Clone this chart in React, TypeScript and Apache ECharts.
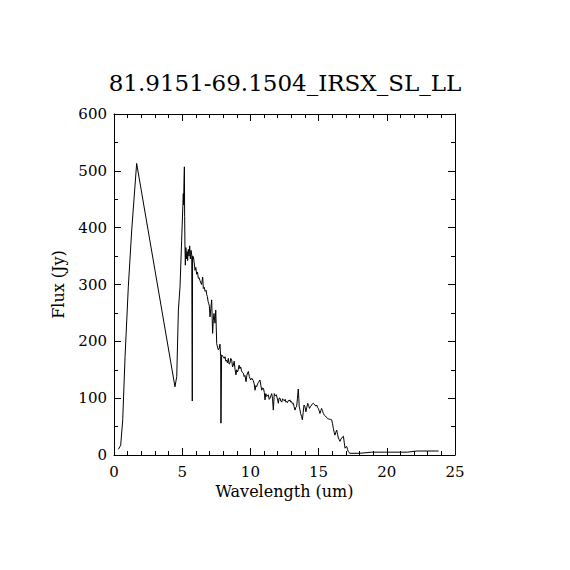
import React, { useEffect, useRef } from "react";
import * as echarts from "echarts";

const TITLE = "81.9151-69.1504_IRSX_SL_LL";
const X_NAME = "Wavelength (um)";
const Y_NAME = "Flux (Jy)";

const wavelength = [
  0.32, 0.49, 0.64, 0.81, 1.05, 1.3, 1.66,
  4.47, 4.6, 4.72, 4.84, 4.96, 5.08, 5.1, 5.13, 5.16, 5.18, 5.2, 5.23, 5.27, 5.31, 5.36, 5.4, 5.45, 5.5, 5.55, 5.6, 5.65, 5.7, 5.74, 5.76,
  5.82, 5.88, 5.94, 6.0, 6.06, 6.12, 6.18, 6.24, 6.3, 6.35, 6.42, 6.5, 6.55, 6.62, 6.68, 6.75, 6.8, 6.84, 6.9, 6.95, 6.99,
  7.04, 7.1, 7.16, 7.23, 7.28, 7.33, 7.4, 7.46, 7.53, 7.59, 7.65, 7.72, 7.77, 7.82, 7.84, 7.89,
  7.95, 8.02, 8.08, 8.14, 8.2, 8.26, 8.32, 8.38, 8.44, 8.5, 8.56, 8.63, 8.69, 8.75, 8.81, 8.88, 8.94, 9.0, 9.05, 9.11, 9.17, 9.23, 9.29,
  9.35, 9.42, 9.48, 9.54, 9.6, 9.68, 9.74, 9.8, 9.85, 9.92, 10.02, 10.1, 10.21, 10.28, 10.34, 10.4, 10.46, 10.52, 10.6, 10.7, 10.77,
  10.83, 10.9, 10.96, 11.02, 11.07, 11.13, 11.19, 11.25, 11.31, 11.38, 11.44, 11.5, 11.56, 11.62, 11.68, 11.72, 11.75, 11.82, 11.9,
  11.97, 12.05, 12.1, 12.17, 12.23, 12.3, 12.36, 12.42, 12.5, 12.55, 12.6, 12.66, 12.72, 12.78, 12.84, 12.9, 12.96, 13.02, 13.08,
  13.15, 13.2, 13.27, 13.33, 13.39, 13.45, 13.51, 13.55, 13.58, 13.63, 13.68, 13.75, 13.81, 13.87, 13.93, 14.0, 14.07, 14.13, 14.2,
  14.27, 14.33, 14.4, 14.49, 14.55, 14.61, 14.68, 14.74, 14.8, 14.86, 14.92, 14.98, 15.04, 15.1, 15.16, 15.22, 15.28, 15.35, 15.42,
  15.48, 15.54, 15.6, 15.66, 15.71, 15.78, 15.85, 15.9, 15.96, 16.02, 16.08, 16.14, 16.2, 16.26, 16.33, 16.39, 16.45, 16.51, 16.57,
  16.63, 16.7, 16.76, 16.82, 16.88, 16.94, 17.0, 17.06, 17.12, 17.18, 17.24, 17.3, 18.0, 18.9, 20.0, 21.5, 22.2, 23.8,
];

const flux = [
  10, 17, 62, 173, 296, 396, 513,
  120, 138, 255, 296, 378, 460, 440, 480, 507, 420, 373, 334, 365, 345, 358, 342, 362, 350, 368, 345, 360, 352, 95, 350,
  349, 338, 325, 330, 318, 322, 311, 312, 307, 307, 300, 313, 293, 295, 288, 290, 282, 279, 270, 266, 262,
  243, 258, 273, 214, 237, 249, 232, 255, 196, 190, 185, 188, 195, 173, 56, 176,
  175, 172, 170, 173, 165, 167, 162, 170, 160, 161, 170, 167, 155, 158, 165, 150, 141, 150, 146, 150, 158, 152, 155,
  148, 145, 144, 138, 140, 129, 140, 145, 147, 138, 132, 135, 131, 125, 114, 122, 120, 125, 128, 132, 122,
  114, 118, 117, 110, 97, 108, 103, 104, 106, 98, 100, 104, 108, 100, 79, 95, 108, 104, 106,
  100, 91, 100, 100, 95, 93, 99, 97, 95, 98, 93, 94, 92, 96, 95, 97, 93, 94, 90,
  91, 85, 79, 84, 85, 100, 116, 100, 85, 80, 73, 68, 62, 75, 88, 85, 76, 83, 91,
  87, 82, 85, 88, 90, 91, 89, 88, 86, 88, 84, 82, 78, 73, 78, 82, 78, 73, 70,
  69, 67, 66, 64, 64, 63, 63, 62, 62, 55, 47, 40, 35, 40, 44, 36, 30, 27, 24,
  28, 30, 32, 33, 22, 12, 14, 15, 10, 6, 4, 3, 3, 5, 5, 5, 7, 7,
];

const X_MIN = 0;
const X_MAX = 25;
const X_STEP = 5;
const Y_MIN = 0;
const Y_MAX = 600;
const Y_STEP = 100;

const FONT = "DejaVu Serif";

export default function App() {
  const ref = useRef<HTMLDivElement>(null);
  useEffect(() => {
    if (!ref.current) return;
    const chart = echarts.init(ref.current, null, { renderer: "svg" });
    const data = wavelength.map((w, i) => [w, flux[i]]);
    const axisLine = { show: true, onZero: false, lineStyle: { color: "#000", width: 1 } };
    const tick = { show: true, inside: true, length: 7, lineStyle: { color: "#000", width: 1 } };
    const minorTick = (n: number) => ({ show: true, splitNumber: n, length: 4, lineStyle: { color: "#000", width: 1 } });
    const label = { color: "#000", fontFamily: FONT, fontSize: 15 };
    chart.setOption({
      animation: false,
      backgroundColor: "#fff",
      title: {
        text: TITLE,
        left: "center",
        top: 66,
        textStyle: { color: "#000", fontFamily: FONT, fontSize: 23, fontWeight: "normal" },
      },
      grid: { left: 114, top: 114, width: 341, height: 341, containLabel: false },
      xAxis: [
        {
          type: "value",
          min: X_MIN,
          max: X_MAX,
          interval: X_STEP,
          position: "bottom",
          name: X_NAME,
          nameLocation: "middle",
          nameGap: 28,
          nameTextStyle: { color: "#000", fontFamily: FONT, fontSize: 16 },
          axisLine,
          axisTick: tick,
          minorTick: minorTick(5),
          splitLine: { show: false },
          axisLabel: { ...label, margin: 9 },
        },
        {
          type: "value",
          min: X_MIN,
          max: X_MAX,
          interval: X_STEP,
          position: "top",
          axisLine,
          axisTick: tick,
          minorTick: minorTick(5),
          splitLine: { show: false },
          axisLabel: { show: false },
        },
      ],
      yAxis: [
        {
          type: "value",
          min: Y_MIN,
          max: Y_MAX,
          interval: Y_STEP,
          position: "left",
          name: Y_NAME,
          nameLocation: "middle",
          nameGap: 48,
          nameRotate: 90,
          nameTextStyle: { color: "#000", fontFamily: FONT, fontSize: 16 },
          axisLine,
          axisTick: tick,
          minorTick: minorTick(2),
          splitLine: { show: false },
          axisLabel: { ...label, margin: 7 },
        },
        {
          type: "value",
          min: Y_MIN,
          max: Y_MAX,
          interval: Y_STEP,
          position: "right",
          axisLine,
          axisTick: tick,
          minorTick: minorTick(2),
          splitLine: { show: false },
          axisLabel: { show: false },
        },
      ],
      series: [
        {
          type: "line",
          xAxisIndex: 0,
          yAxisIndex: 0,
          data,
          showSymbol: false,
          symbol: "none",
          lineStyle: { color: "#000", width: 1 },
        },
      ],
    });
    return () => chart.dispose();
  }, []);
  return (
    <div
      ref={ref}
      style={{ position: "fixed", left: 0, top: 0, width: 570, height: 570, background: "#fff" }}
    />
  );
}
